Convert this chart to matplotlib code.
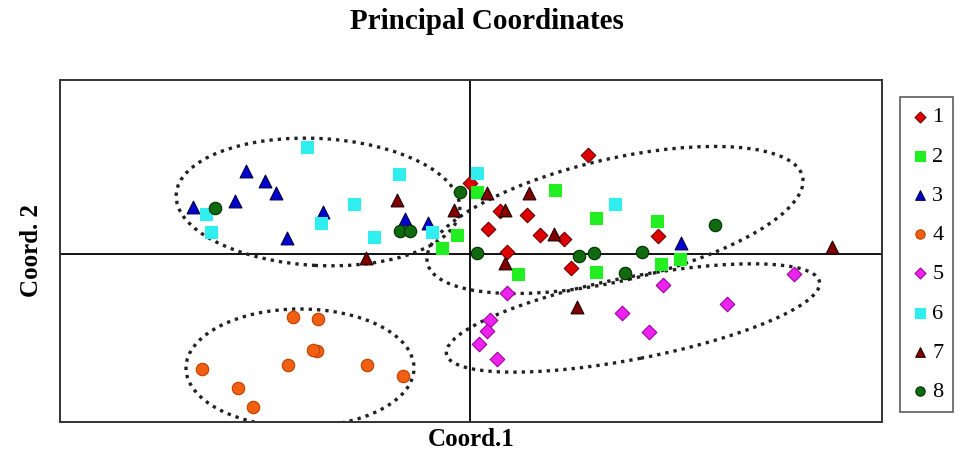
import matplotlib.pyplot as plt
from matplotlib.patches import Ellipse
import numpy as np

plt.rcParams['font.family'] = ['Liberation Serif', 'DejaVu Serif']

# coordinates (Coord.1, Coord.2)
g1_x = [1.18, 0.30, 0.57, 0.18, 0.70, 0.94, 0.37, 1.01, 1.88, 0.00]
g1_y = [0.99, 0.43, 0.39, 0.25, 0.19, 0.15, 0.02, -0.14, 0.18, 0.71]
g2_x = [0.07, -0.13, -0.28, 0.85, 1.26, 1.87, 0.48, 1.26, 1.91, 2.10]
g2_y = [0.62, 0.19, 0.06, 0.64, 0.36, 0.33, -0.20, -0.18, -0.10, -0.05]
g3_x = [-2.77, -2.24, -2.05, -1.94, -2.35, -1.47, -1.83, -0.65, -0.42, 2.11]
g3_y = [0.47, 0.83, 0.73, 0.61, 0.53, 0.42, 0.16, 0.35, 0.31, 0.11]
g4_x = [-1.77, -1.52, -1.53, -1.57, -1.82, -2.68, -2.32, -2.17, -1.03, -0.67]
g4_y = [-0.63, -0.65, -0.97, -0.96, -1.11, -1.15, -1.34, -1.53, -1.11, -1.22]
g5_x = [0.37, 0.20, 0.17, 0.09, 0.27, 1.52, 1.79, 1.93, 2.57, 3.24]
g5_y = [-0.39, -0.66, -0.77, -0.90, -1.05, -0.59, -0.78, -0.31, -0.50, -0.20]
g6_x = [-1.63, -0.71, -2.64, -2.59, -1.16, -1.49, -0.96, -0.38, 0.07, 1.45]
g6_y = [1.07, 0.80, 0.40, 0.22, 0.50, 0.31, 0.17, 0.22, 0.81, 0.50]
g7_x = [-0.73, -0.16, -1.04, 0.17, 0.35, 0.59, 0.84, 0.35, 3.62, 1.07]
g7_y = [0.54, 0.44, -0.04, 0.61, 0.44, 0.61, 0.20, -0.09, 0.07, -0.53]
g8_x = [-2.55, -0.70, -0.60, -0.10, 0.07, 1.09, 1.24, 1.72, 2.45, 1.55]
g8_y = [0.46, 0.23, 0.23, 0.62, 0.01, -0.02, 0.01, 0.02, 0.29, -0.19]

groups = [
    ("1", g1_x, g1_y, "D", "#e00000", "#700000", 55),
    ("2", g2_x, g2_y, "s", "#22ee22", "#22ee22", 80),
    ("3", g3_x, g3_y, "^", "#0000d0", "#000040", 85),
    ("4", g4_x, g4_y, "o", "#f06010", "#c04000", 80),
    ("5", g5_x, g5_y, "D", "#ee22ee", "#a000a0", 55),
    ("6", g6_x, g6_y, "s", "#30eeee", "#30eeee", 80),
    ("7", g7_x, g7_y, "^", "#800000", "#200000", 85),
    ("8", g8_x, g8_y, "o", "#106a10", "#003000", 80),
]

fig = plt.figure(figsize=(9.6, 4.57), dpi=100)
ax = fig.add_axes([0.0625, 0.0766, 0.85625, 0.7484])

ax.axhline(0, color="black", lw=1.3, zorder=1)
ax.axvline(0, color="black", lw=1.3, zorder=1)

# dotted ellipses around the clusters
ells = [((-1.52, 0.52), 2.84, 1.27, -3),
        ((1.45, 0.34), 3.85, 1.22, 13),
        ((1.63, -0.64), 3.80, 0.82, 11),
        ((-1.70, -1.14), 2.28, 1.18, 0)]
for c, w, h, a in ells:
    ax.add_patch(Ellipse(c, w, h, angle=a, fill=False, ls=(0, (1, 1.5)),
                         lw=2.4, ec="#222222", zorder=2))

for lab, xs, ys, m, fc, ec, s in groups:
    ax.scatter(xs, ys, marker=m, s=s, c=fc, edgecolors=ec, linewidths=0.8,
               label=lab, zorder=3)

ax.set_xlim(-4.10, 4.12)
ax.set_ylim(-1.68, 1.74)
ax.set_xticks([])
ax.set_yticks([])
for sp in ax.spines.values():
    sp.set_linewidth(1.4)
    sp.set_color("#333333")

ax.set_xlabel("Coord.1", fontsize=18, fontweight="bold", labelpad=4)
ax.set_ylabel("Coord. 2", fontsize=18, fontweight="bold", labelpad=12)
fig.text(0.507, 0.952, "Principal Coordinates", ha="center", va="center",
         fontsize=21, fontweight="bold")

leg = fig.legend(loc="upper left", bbox_to_anchor=(0.9375, 0.788),
                 frameon=True, fancybox=False, edgecolor="#333333",
                 fontsize=16, markerscale=0.75, handletextpad=0.1,
                 handlelength=0.9, labelspacing=0.84, borderpad=0.45,
                 borderaxespad=0)
leg.get_frame().set_linewidth(1.2)

fig.savefig("out.png", dpi=100)
